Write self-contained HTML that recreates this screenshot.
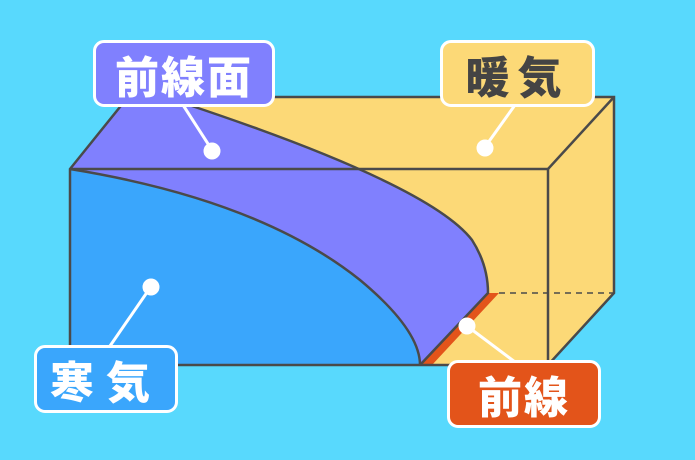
<!DOCTYPE html>
<html><head><meta charset="utf-8"><style>
body{margin:0;width:695px;height:460px;background:#58d9fd;overflow:hidden;position:relative;font-family:"Liberation Sans","Noto Sans CJK JP",sans-serif}
.lb{position:absolute;border:3px solid #fff;border-radius:11px;box-sizing:border-box;font-weight:900;font-size:44px;display:flex;align-items:center;justify-content:center;letter-spacing:2px}
</style></head><body>
<svg width="695" height="460" style="position:absolute;left:0;top:0">
<polygon points="70,169 128,97 614,97 614,293 548,365 70,365" fill="#fcd977"/>
<path d="M128,97 L186,104 Q430,185 472,240 Q488,265 488,293 L420,365 L70,365 L70,169 Z" fill="#8080fe"/>
<path d="M70,169 Q260,200 360,280 Q420,330 420,365 L70,365 Z" fill="#3aa6fc"/>
<polygon points="488,293 499,293 432,365 420,365" fill="#e3541a"/>
<g fill="none" stroke="#4a4a4a" stroke-width="2.5">
<path d="M186,104 Q430,185 472,240 Q488,265 488,293 L420,365"/>
<path d="M70,169 Q260,200 360,280 Q420,330 420,365"/>
<polygon points="70,169 128,97 614,97 614,293 548,365 70,365"/>
<line x1="70" y1="169" x2="548" y2="169"/>
<line x1="548" y1="169" x2="614" y2="97"/>
<line x1="548" y1="169" x2="548" y2="365"/>
<line x1="499" y1="293" x2="614" y2="293" stroke-dasharray="6,5" stroke-width="1.5"/>
</g>
<g stroke="#fff" stroke-width="3" fill="#fff">
<line x1="183" y1="105" x2="212" y2="150"/><circle cx="212" cy="151" r="7"/>
<line x1="515" y1="105" x2="485" y2="147"/><circle cx="485" cy="148" r="7"/>
<line x1="150" y1="288" x2="110" y2="346"/><circle cx="151" cy="287" r="7"/>
<line x1="467" y1="326" x2="515" y2="362"/><circle cx="467" cy="326" r="7"/>
</g>
</svg>
<div class="lb" style="left:93px;top:40px;width:182px;height:67px;background:#8080fe;color:#fff">前線面</div>
<div class="lb" style="left:440px;top:40px;width:155px;height:67px;background:#fcd977;color:#444;letter-spacing:8px">暖気</div>
<div class="lb" style="left:34px;top:345px;width:144px;height:68px;background:#3aa6fc;color:#fff;letter-spacing:12px">寒気</div>
<div class="lb" style="left:447px;top:360px;width:154px;height:68px;background:#e3541a;color:#fff">前線</div>
</body></html>
